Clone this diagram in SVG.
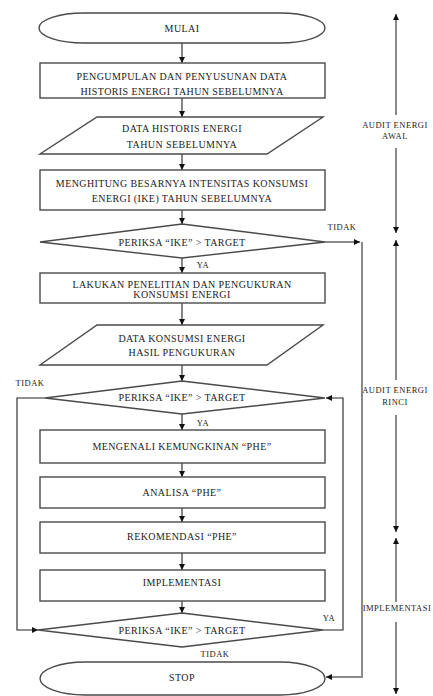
<svg xmlns="http://www.w3.org/2000/svg" width="433" height="696" viewBox="0 0 433 696">
<style>
.shape{fill:#fff;stroke:#4a4a4a;stroke-width:1.4}
.t{font-family:"Liberation Serif","DejaVu Serif",serif;font-size:10px;fill:#222;text-anchor:middle;letter-spacing:0.4px}
.s{font-family:"Liberation Serif","DejaVu Serif",serif;font-size:8.5px;fill:#222;text-anchor:middle;letter-spacing:0.5px}
.ln{fill:none;stroke:#222;stroke-width:1.1}
.gl{fill:none;stroke:#8a8a8a;stroke-width:2}
</style>
<defs>
<marker id="ah" viewBox="0 0 6 6" refX="6" refY="3" markerWidth="6" markerHeight="6" markerUnits="userSpaceOnUse" orient="auto">
<path d="M0,0 L6,3 L0,6 z" fill="#111"/>
</marker>
</defs>
<rect width="433" height="696" fill="#fff"/>
<g id="connectors">
<path class="ln" d="M182,43 V63" marker-end="url(#ah)"/>
<path class="ln" d="M182,98 V117" marker-end="url(#ah)"/>
<path class="ln" d="M182,154 V170" marker-end="url(#ah)"/>
<path class="ln" d="M182,210 V224" marker-end="url(#ah)"/>
<path class="ln" d="M182,258 V273" marker-end="url(#ah)"/>
<path class="ln" d="M182,303 V325" marker-end="url(#ah)"/>
<path class="ln" d="M182,365 V381" marker-end="url(#ah)"/>
<path class="ln" d="M182,414 V430" marker-end="url(#ah)"/>
<path class="ln" d="M182,463 V477" marker-end="url(#ah)"/>
<path class="ln" d="M182,508 V522" marker-end="url(#ah)"/>
<path class="ln" d="M182,553 V570" marker-end="url(#ah)"/>
<path class="ln" d="M182,601 V613" marker-end="url(#ah)"/>
<path class="gl" d="M325,242 H360" marker-end="url(#ah)"/>
<path class="gl" d="M362,242 V677 H326" marker-end="url(#ah)"/>
<path class="ln" d="M45,398 H17 V630 H38" marker-end="url(#ah)"/>
<path class="ln" d="M323,630 H343 V398 H326" marker-end="url(#ah)"/>
<path class="gl" d="M396,115 V14" marker-end="url(#ah)"/>
<path class="gl" d="M396,148 V233" marker-end="url(#ah)"/>
<path class="gl" d="M396,380 V240" marker-end="url(#ah)"/>
<path class="gl" d="M396,415 V532" marker-end="url(#ah)"/>
<path class="gl" d="M396,602 V538" marker-end="url(#ah)"/>
<path class="gl" d="M396,622 V694" marker-end="url(#ah)"/>
</g>
<g id="mulai">
<rect class="shape" x="39" y="13" width="286" height="30" rx="45" ry="15"/>
<text class="t" x="182" y="31.5">MULAI</text>
</g>
<g id="box1">
<rect class="shape" x="40" y="63" width="285" height="35"/>
<text class="t" x="182" y="79.5">PENGUMPULAN DAN PENYUSUNAN DATA</text>
<text class="t" x="182" y="94.5">HISTORIS ENERGI TAHUN SEBELUMNYA</text>
</g>
<g id="data1">
<polygon class="shape" points="97,117 323,117 267,154 40,154"/>
<text class="t" x="182" y="131.5">DATA HISTORIS ENERGI</text>
<text class="t" x="182" y="147.5">TAHUN SEBELUMNYA</text>
</g>
<g id="box2">
<rect class="shape" x="40" y="170" width="285" height="40"/>
<text class="t" x="182" y="186.5">MENGHITUNG BESARNYA INTENSITAS KONSUMSI</text>
<text class="t" x="182" y="201.5">ENERGI (IKE) TAHUN SEBELUMNYA</text>
</g>
<g id="decision1">
<polygon class="shape" points="182,224 325,242 182,258 40,242"/>
<text class="t" x="182" y="245.5">PERIKSA “IKE” &gt; TARGET</text>
<text class="s" x="342" y="230">TIDAK</text>
<text class="s" x="203" y="268">YA</text>
</g>
<g id="box3">
<rect class="shape" x="40" y="273" width="285" height="30"/>
<text class="t" x="182" y="288">LAKUKAN PENELITIAN DAN PENGUKURAN</text>
<text class="t" x="182" y="298">KONSUMSI ENERGI</text>
</g>
<g id="data2">
<polygon class="shape" points="97,325 323,325 267,365 40,365"/>
<text class="t" x="182" y="341.5">DATA KONSUMSI ENERGI</text>
<text class="t" x="182" y="355.5">HASIL PENGUKURAN</text>
</g>
<g id="decision2">
<polygon class="shape" points="182,381 325,398 182,414 45,398"/>
<text class="t" x="182" y="401">PERIKSA “IKE” &gt; TARGET</text>
<text class="s" x="30" y="386">TIDAK</text>
<text class="s" x="203" y="426">YA</text>
</g>
<g id="box4">
<rect class="shape" x="40" y="430" width="285" height="33"/>
<text class="t" x="182" y="449.5">MENGENALI KEMUNGKINAN “PHE”</text>
</g>
<g id="box5">
<rect class="shape" x="40" y="477" width="285" height="31"/>
<text class="t" x="182" y="495.5">ANALISA “PHE”</text>
</g>
<g id="box6">
<rect class="shape" x="40" y="522" width="285" height="31"/>
<text class="t" x="182" y="540">REKOMENDASI “PHE”</text>
</g>
<g id="box7">
<rect class="shape" x="40" y="570" width="285" height="31"/>
<text class="t" x="182" y="585.5">IMPLEMENTASI</text>
</g>
<g id="decision3">
<polygon class="shape" points="182,613 323,630 182,647 38,630"/>
<text class="t" x="182" y="633.5">PERIKSA “IKE” &gt; TARGET</text>
<text class="s" x="329" y="621">YA</text>
<text class="s" x="215" y="657">TIDAK</text>
</g>
<g id="stop">
<rect class="shape" x="40" y="662" width="285" height="33" rx="45" ry="16.5"/>
<text class="t" x="182" y="680.5">STOP</text>
</g>
<g id="phase-labels">
<text class="s" x="395" y="128">AUDIT ENERGI</text>
<text class="s" x="395" y="139">AWAL</text>
<text class="s" x="395" y="393">AUDIT ENERGI</text>
<text class="s" x="395" y="405">RINCI</text>
<text class="s" x="397" y="611">IMPLEMENTASI</text>
</g>
</svg>
